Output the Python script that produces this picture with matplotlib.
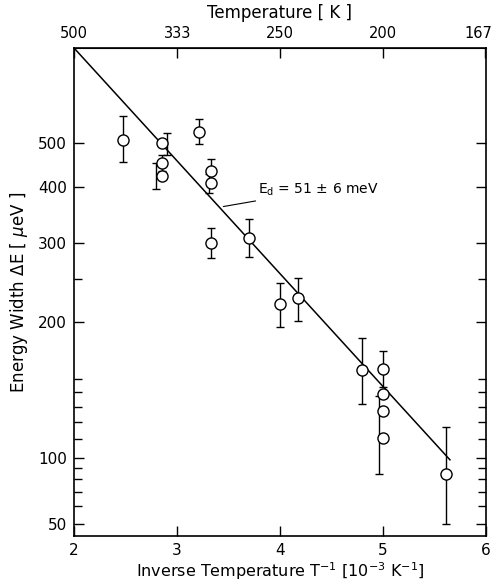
"""Energy width vs inverse temperature (Arrhenius plot) with a fitted line."""

import numpy as np
from matplotlib import pyplot as plt
from matplotlib.scale import FuncScale
from matplotlib.ticker import FixedLocator, FixedFormatter, NullFormatter
from matplotlib.transforms import ScaledTranslation

# measured widths (circle positions)
point_x = [2.48, 2.85, 2.85, 2.85, 3.21, 3.33, 3.33, 3.33, 3.70, 4.00, 4.17,
           4.80, 5.00, 5.00, 5.00, 5.00, 5.61]
point_y = [509, 501, 452, 423, 530, 434, 408, 300, 308, 220, 227,
           157, 158, 139, 127, 111, 84]

# error bars (some drawn slightly beside their circle, as in the original)
bar_x = [2.48, 2.90, 2.85, 2.80, 3.21, 3.33, 3.31, 3.33, 3.70, 4.00, 4.17,
         4.80, 5.00, 4.96, 5.61]
bar_lo = [455, 471, 434, 396, 499, 415, 388, 278, 280, 195, 202,
          132, 144, 84, 50]
bar_hi = [575, 528, 471, 452, 567, 462, 428, 324, 340, 245, 251,
          185, 173, 137, 117]

# fitted Arrhenius line, ends
fit_x = [2.0, 5.65]
fit_y = [815, 98]

y_major = [50, 100, 200, 300, 400, 500]
y_minor = [60, 70, 80, 90, 110, 120, 130, 140, 150, 250]
x_major = [2, 3, 4, 5, 6]
top_labels = ["500", "333", "250", "200", "167"]

LOW_SQUEEZE = 0.487  # the original axis is compressed below 100


def _forward(values):
    logs = np.log10(np.clip(values, 1e-6, None))
    return np.where(logs >= 2, logs, 2 + LOW_SQUEEZE * (logs - 2))


def _inverse(values):
    values = np.asarray(values, dtype=float)
    return np.where(values >= 2, 10 ** values, 10 ** (2 + (values - 2) / LOW_SQUEEZE))


plt.rcParams["font.family"] = "DejaVu Sans"

figure = plt.figure(figsize=(4.95, 5.83), dpi=100)
axis = figure.add_axes([0.1495, 0.0806, 0.8323, 0.8371])

axis.plot(fit_x, fit_y, color="black", linewidth=1.1, zorder=2)

bar_lo_arr = np.array(bar_lo, dtype=float)
bar_hi_arr = np.array(bar_hi, dtype=float)
axis.errorbar(bar_x, bar_lo_arr, yerr=[np.zeros_like(bar_lo_arr), bar_hi_arr - bar_lo_arr],
              fmt="none", ecolor="black", elinewidth=1.0, capsize=3, capthick=1.0, zorder=3)
axis.plot(point_x, point_y, "o", markersize=8, markerfacecolor="white",
          markeredgecolor="black", markeredgewidth=1.0, zorder=4)

axis.set_yscale(FuncScale(axis.yaxis, (_forward, _inverse)))
axis.set_xlim(2, 6)
axis.set_ylim(44, 815)

axis.yaxis.set_major_locator(FixedLocator(y_major))
axis.yaxis.set_major_formatter(FixedFormatter([str(v) for v in y_major]))
axis.yaxis.set_minor_locator(FixedLocator(y_minor))
axis.yaxis.set_minor_formatter(NullFormatter())
axis.set_xticks(x_major)
axis.set_xticklabels([str(v) for v in x_major])

axis.tick_params(which="both", direction="in", right=True, labelsize=11,
                 width=1.0, pad=5)
axis.tick_params(which="major", length=7)
axis.tick_params(which="minor", length=6)
axis.tick_params(axis="x", top=False)
for spine in axis.spines.values():
    spine.set_linewidth(1.2)

top_axis = axis.secondary_xaxis("top", functions=(lambda x: 1000 / np.clip(x, 1e-6, None),
                                                  lambda t: 1000 / np.clip(t, 1e-6, None)))
top_axis.set_xticks([float(t) for t in top_labels])
top_axis.set_xticklabels(top_labels)
top_axis.tick_params(direction="in", length=7, width=1.0, labelsize=10.5, pad=5)
top_axis.set_xlabel("Temperature [ K ]", fontsize=12, labelpad=6)
# nudge the last top label so it stays inside the figure
last_label = top_axis.get_xticklabels()[-1]
last_label.set_transform(last_label.get_transform()
                         + ScaledTranslation(-6 / 100, 0, figure.dpi_scale_trans))

axis.set_xlabel(r"Inverse Temperature T$^{-1}$ [10$^{-3}$ K$^{-1}$]", fontsize=11.5)
axis.xaxis.set_label_coords(0.5, -0.05)
axis.set_ylabel(r"Energy Width $\Delta$E [ $\mu$eV ]", fontsize=12, labelpad=6)

axis.annotate(r"E$_\mathregular{d}$ = 51 $\pm$ 6 meV", xy=(3.45, 362), xytext=(3.79, 394),
              fontsize=10, va="center", ha="left",
              arrowprops=dict(arrowstyle="-", color="black", linewidth=0.8,
                              shrinkA=0, shrinkB=0))

figure.savefig("out.png", dpi=100)
